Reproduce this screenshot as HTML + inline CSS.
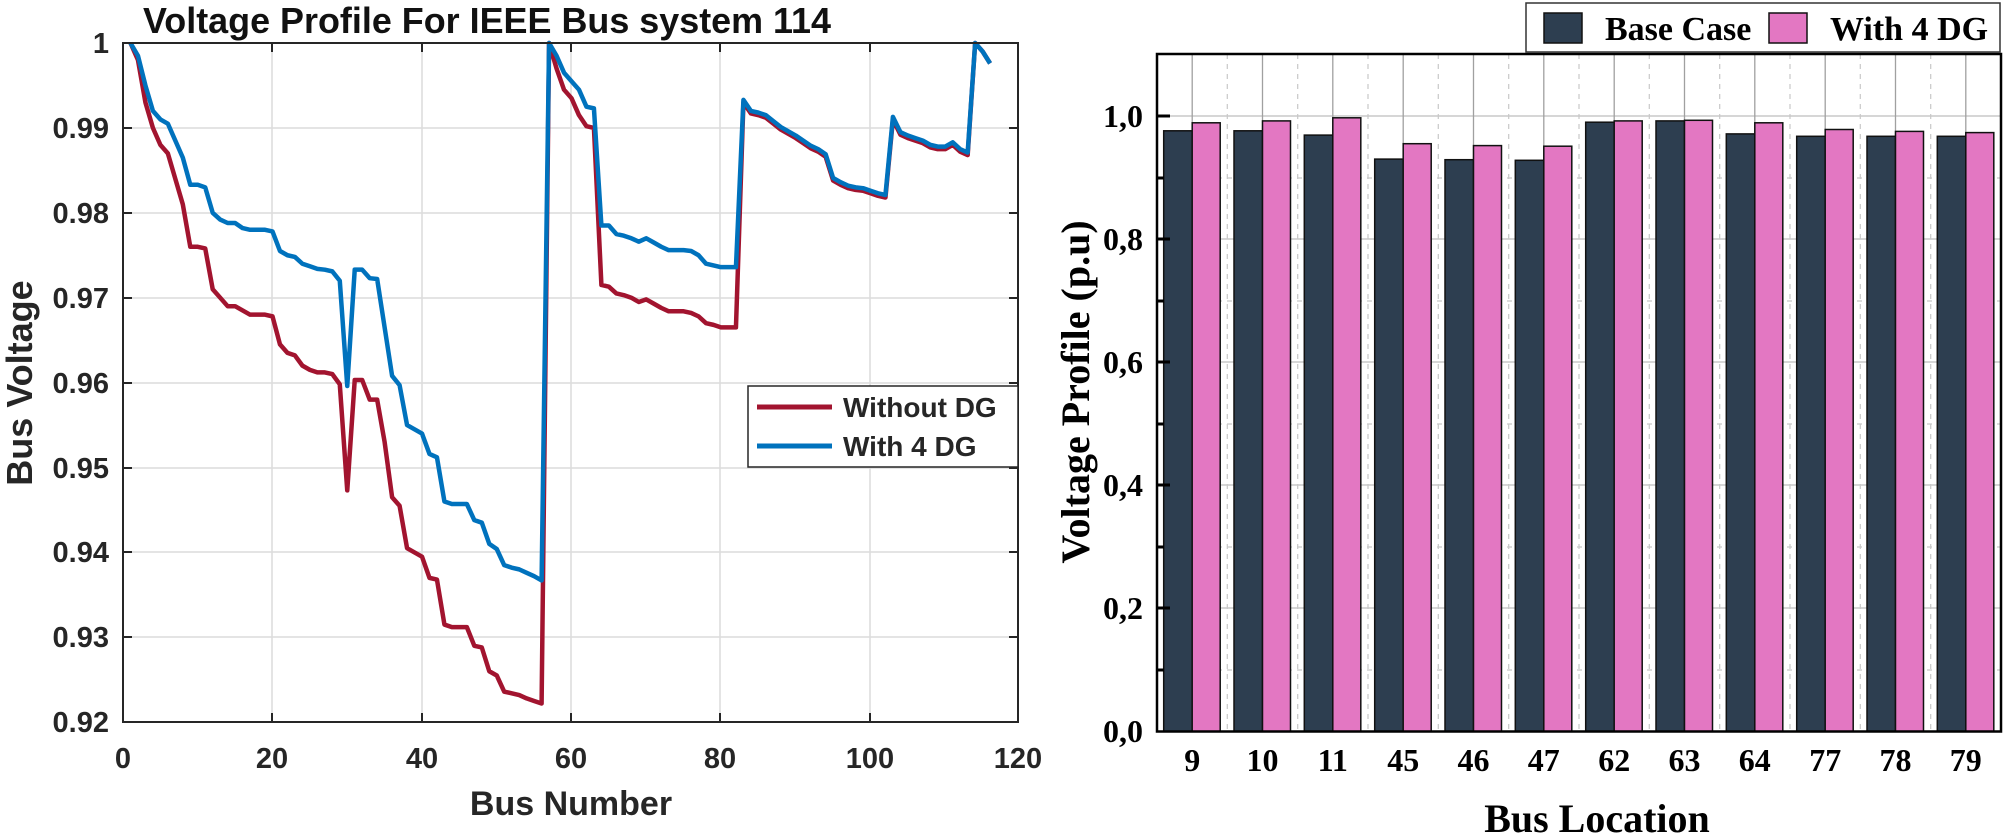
<!DOCTYPE html>
<html><head><meta charset="utf-8"><style>
html,body{margin:0;padding:0;background:#fff;}
svg{display:block;}
.a{font-family:"Liberation Sans",Arial,sans-serif;font-weight:bold;fill:#262626;}
.t{font-family:"Liberation Serif","Times New Roman",serif;font-weight:bold;fill:#000;}
</style></head><body>
<svg width="2005" height="838" viewBox="0 0 2005 838" xmlns="http://www.w3.org/2000/svg">
<!-- LEFT CHART -->
<g stroke="#dcdcdc" stroke-width="1.5">
<line x1="272" y1="43" x2="272" y2="722"/><line x1="422" y1="43" x2="422" y2="722"/>
<line x1="571" y1="43" x2="571" y2="722"/><line x1="720" y1="43" x2="720" y2="722"/>
<line x1="870" y1="43" x2="870" y2="722"/>
<line x1="123" y1="128" x2="1018" y2="128"/><line x1="123" y1="213" x2="1018" y2="213"/>
<line x1="123" y1="298" x2="1018" y2="298"/><line x1="123" y1="383" x2="1018" y2="383"/>
<line x1="123" y1="468" x2="1018" y2="468"/><line x1="123" y1="552" x2="1018" y2="552"/>
<line x1="123" y1="637" x2="1018" y2="637"/>
</g>
<g transform="translate(123,8533) scale(7.475,-8490)" fill="none" stroke-linejoin="round">
<polyline vector-effect="non-scaling-stroke" stroke="#A2142F" stroke-width="4.5" points="1,1 2,0.998 3,0.993 4,0.990 5,0.988 6,0.987 7,0.984 8,0.981 9,0.976 10,0.976 11,0.9758 12,0.971 13,0.970 14,0.969 15,0.969 16,0.9685 17,0.968 18,0.968 19,0.968 20,0.9678 21,0.9645 22,0.9635 23,0.9632 24,0.962 25,0.9615 26,0.9612 27,0.9612 28,0.961 29,0.9598 30,0.9473 31,0.9603 32,0.9603 33,0.958 34,0.958 35,0.953 36,0.9465 37,0.9455 38,0.9405 39,0.940 40,0.9395 41,0.937 42,0.9368 43,0.9315 44,0.9312 45,0.9312 46,0.9312 47,0.929 48,0.9288 49,0.926 50,0.9255 51,0.9236 52,0.9234 53,0.9232 54,0.9228 55,0.9225 56,0.9222 57,1 58,0.997 59,0.9945 60,0.9935 61,0.9915 62,0.9902 63,0.990 64,0.9715 65,0.9713 66,0.9705 67,0.9703 68,0.970 69,0.9695 70,0.9698 71,0.9693 72,0.9688 73,0.9684 74,0.9684 75,0.9684 76,0.9682 77,0.9678 78,0.967 79,0.9668 80,0.9665 81,0.9665 82,0.9665 83,0.993 84,0.9917 85,0.9915 86,0.9912 87,0.9905 88,0.9898 89,0.9893 90,0.9888 91,0.9882 92,0.9876 93,0.9872 94,0.9866 95,0.9838 96,0.9833 97,0.9829 98,0.9827 99,0.9826 100,0.9823 101,0.982 102,0.9818 103,0.991 104,0.9892 105,0.9888 106,0.9885 107,0.9882 108,0.9877 109,0.9875 110,0.9875 111,0.9880 112,0.9872 113,0.9868 114,1 115,0.999 116,0.9976"/>
<polyline vector-effect="non-scaling-stroke" stroke="#0072BD" stroke-width="4.5" points="1,1 2,0.9985 3,0.995 4,0.992 5,0.991 6,0.9905 7,0.9885 8,0.9865 9,0.9833 10,0.9833 11,0.983 12,0.980 13,0.9792 14,0.9788 15,0.9788 16,0.9782 17,0.978 18,0.978 19,0.978 20,0.9778 21,0.9755 22,0.975 23,0.9748 24,0.974 25,0.9737 26,0.9734 27,0.9733 28,0.9731 29,0.972 30,0.9596 31,0.9733 32,0.9733 33,0.9723 34,0.9722 35,0.9665 36,0.9608 37,0.9597 38,0.955 39,0.9545 40,0.954 41,0.9516 42,0.9512 43,0.946 44,0.9457 45,0.9457 46,0.9457 47,0.9438 48,0.9435 49,0.941 50,0.9404 51,0.9385 52,0.9382 53,0.938 54,0.9376 55,0.9372 56,0.9367 57,1 58,0.9985 59,0.9965 60,0.9955 61,0.9945 62,0.9925 63,0.9923 64,0.9785 65,0.9785 66,0.9775 67,0.9773 68,0.977 69,0.9766 70,0.977 71,0.9765 72,0.976 73,0.9756 74,0.9756 75,0.9756 76,0.9755 77,0.975 78,0.974 79,0.9738 80,0.9736 81,0.9736 82,0.9736 83,0.9933 84,0.992 85,0.9918 86,0.9915 87,0.9908 88,0.9901 89,0.9896 90,0.9891 91,0.9885 92,0.9879 93,0.9875 94,0.9869 95,0.9841 96,0.9836 97,0.9832 98,0.983 99,0.9829 100,0.9826 101,0.9823 102,0.9821 103,0.9913 104,0.9895 105,0.9891 106,0.9888 107,0.9885 108,0.988 109,0.9878 110,0.9878 111,0.9883 112,0.9875 113,0.9871 114,1 115,0.999 116,0.9976"/>
</g>
<rect x="123" y="43" width="895" height="679" fill="none" stroke="#262626" stroke-width="2"/>
<g stroke="#262626" stroke-width="2">
<line x1="272" y1="722" x2="272" y2="713"/><line x1="422" y1="722" x2="422" y2="713"/><line x1="571" y1="722" x2="571" y2="713"/><line x1="720" y1="722" x2="720" y2="713"/><line x1="870" y1="722" x2="870" y2="713"/>
<line x1="272" y1="43" x2="272" y2="52"/><line x1="422" y1="43" x2="422" y2="52"/><line x1="571" y1="43" x2="571" y2="52"/><line x1="720" y1="43" x2="720" y2="52"/><line x1="870" y1="43" x2="870" y2="52"/>
<line x1="123" y1="128" x2="132" y2="128"/><line x1="123" y1="213" x2="132" y2="213"/><line x1="123" y1="298" x2="132" y2="298"/><line x1="123" y1="383" x2="132" y2="383"/><line x1="123" y1="468" x2="132" y2="468"/><line x1="123" y1="552" x2="132" y2="552"/><line x1="123" y1="637" x2="132" y2="637"/>
<line x1="1018" y1="128" x2="1009" y2="128"/><line x1="1018" y1="213" x2="1009" y2="213"/><line x1="1018" y1="298" x2="1009" y2="298"/><line x1="1018" y1="383" x2="1009" y2="383"/><line x1="1018" y1="468" x2="1009" y2="468"/><line x1="1018" y1="552" x2="1009" y2="552"/><line x1="1018" y1="637" x2="1009" y2="637"/>
</g>
<g class="a" font-size="29" text-anchor="end">
<text x="109" y="53">1</text><text x="109" y="138">0.99</text><text x="109" y="223">0.98</text><text x="109" y="308">0.97</text><text x="109" y="393">0.96</text><text x="109" y="478">0.95</text><text x="109" y="562">0.94</text><text x="109" y="647">0.93</text><text x="109" y="732">0.92</text>
</g>
<g class="a" font-size="29" text-anchor="middle">
<text x="123" y="768">0</text><text x="272" y="768">20</text><text x="422" y="768">40</text><text x="571" y="768">60</text><text x="720" y="768">80</text><text x="870" y="768">100</text><text x="1018" y="768">120</text>
</g>
<text class="a" font-size="34" x="571" y="815" text-anchor="middle">Bus Number</text>
<text class="a" font-size="36" transform="translate(32,383) rotate(-90)" text-anchor="middle">Bus Voltage</text>
<text class="a" font-size="36" x="487" y="33" text-anchor="middle" style="fill:#111" textLength="688" lengthAdjust="spacingAndGlyphs">Voltage Profile For IEEE Bus system 114</text>
<rect x="748" y="386" width="270" height="81" fill="#fff" stroke="#262626" stroke-width="1.5"/>
<line x1="757" y1="407" x2="832" y2="407" stroke="#A2142F" stroke-width="5"/>
<line x1="757" y1="446" x2="832" y2="446" stroke="#0072BD" stroke-width="5"/>
<text class="a" font-size="28" x="843" y="417">Without DG</text>
<text class="a" font-size="28" x="843" y="456">With 4 DG</text>

<!-- RIGHT CHART -->
<g stroke="#bdbdbd" stroke-width="1.3">
<line x1="1157" y1="116" x2="2001" y2="116"/><line x1="1157" y1="239" x2="2001" y2="239"/><line x1="1157" y1="362" x2="2001" y2="362"/><line x1="1157" y1="485" x2="2001" y2="485"/><line x1="1157" y1="608" x2="2001" y2="608"/>
</g>
<g stroke="#c8c8c8" stroke-width="1.2" stroke-dasharray="5,5">
<line x1="1157" y1="178" x2="2001" y2="178"/><line x1="1157" y1="301" x2="2001" y2="301"/><line x1="1157" y1="424" x2="2001" y2="424"/><line x1="1157" y1="547" x2="2001" y2="547"/><line x1="1157" y1="670" x2="2001" y2="670"/>
<line x1="1227.3" y1="54" x2="1227.3" y2="731"/><line x1="1297.7" y1="54" x2="1297.7" y2="731"/><line x1="1368" y1="54" x2="1368" y2="731"/><line x1="1438.3" y1="54" x2="1438.3" y2="731"/><line x1="1508.7" y1="54" x2="1508.7" y2="731"/><line x1="1579" y1="54" x2="1579" y2="731"/><line x1="1649.3" y1="54" x2="1649.3" y2="731"/><line x1="1719.7" y1="54" x2="1719.7" y2="731"/><line x1="1790" y1="54" x2="1790" y2="731"/><line x1="1860.3" y1="54" x2="1860.3" y2="731"/><line x1="1930.7" y1="54" x2="1930.7" y2="731"/>
</g>
<g stroke="#a0a0a0" stroke-width="1.3">
<line x1="1192.2" y1="54" x2="1192.2" y2="731"/><line x1="1262.5" y1="54" x2="1262.5" y2="731"/><line x1="1332.8" y1="54" x2="1332.8" y2="731"/><line x1="1403.2" y1="54" x2="1403.2" y2="731"/><line x1="1473.5" y1="54" x2="1473.5" y2="731"/><line x1="1543.8" y1="54" x2="1543.8" y2="731"/><line x1="1614.2" y1="54" x2="1614.2" y2="731"/><line x1="1684.5" y1="54" x2="1684.5" y2="731"/><line x1="1754.8" y1="54" x2="1754.8" y2="731"/><line x1="1825.2" y1="54" x2="1825.2" y2="731"/><line x1="1895.5" y1="54" x2="1895.5" y2="731"/><line x1="1965.8" y1="54" x2="1965.8" y2="731"/>
</g>
<g stroke="#111" stroke-width="1.5">
<rect x="1163.7" y="130.8" width="28.5" height="600.7" fill="#2d3e50"/><rect x="1192.2" y="122.8" width="28" height="608.7" fill="#e377c2"/>
<rect x="1234" y="130.8" width="28.5" height="600.7" fill="#2d3e50"/><rect x="1262.5" y="120.9" width="28" height="610.6" fill="#e377c2"/>
<rect x="1304.3" y="135.1" width="28.5" height="596.4" fill="#2d3e50"/><rect x="1332.8" y="117.8" width="28" height="613.7" fill="#e377c2"/>
<rect x="1374.7" y="159.1" width="28.5" height="572.4" fill="#2d3e50"/><rect x="1403.2" y="143.7" width="28" height="587.8" fill="#e377c2"/>
<rect x="1445" y="159.7" width="28.5" height="571.8" fill="#2d3e50"/><rect x="1473.5" y="145.6" width="28" height="585.9" fill="#e377c2"/>
<rect x="1515.3" y="160.3" width="28.5" height="571.2" fill="#2d3e50"/><rect x="1543.8" y="146.2" width="28" height="585.3" fill="#e377c2"/>
<rect x="1585.7" y="122.2" width="28.5" height="609.3" fill="#2d3e50"/><rect x="1614.2" y="120.9" width="28" height="610.6" fill="#e377c2"/>
<rect x="1656" y="120.9" width="28.5" height="610.6" fill="#2d3e50"/><rect x="1684.5" y="120.3" width="28" height="611.2" fill="#e377c2"/>
<rect x="1726.3" y="133.9" width="28.5" height="597.6" fill="#2d3e50"/><rect x="1754.8" y="122.8" width="28" height="608.7" fill="#e377c2"/>
<rect x="1796.7" y="136.3" width="28.5" height="595.2" fill="#2d3e50"/><rect x="1825.2" y="129.5" width="28" height="602" fill="#e377c2"/>
<rect x="1867" y="136.3" width="28.5" height="595.2" fill="#2d3e50"/><rect x="1895.5" y="131.4" width="28" height="600.1" fill="#e377c2"/>
<rect x="1937.3" y="136.3" width="28.5" height="595.2" fill="#2d3e50"/><rect x="1965.8" y="132.6" width="28" height="598.9" fill="#e377c2"/>
</g>
<rect x="1157" y="54" width="844" height="677.5" fill="none" stroke="#000" stroke-width="2.5"/>
<g stroke="#000" stroke-width="3">
<line x1="1157" y1="116" x2="1170" y2="116"/><line x1="1157" y1="239" x2="1170" y2="239"/><line x1="1157" y1="362" x2="1170" y2="362"/><line x1="1157" y1="485" x2="1170" y2="485"/><line x1="1157" y1="608" x2="1170" y2="608"/>
<line x1="1157" y1="178" x2="1164" y2="178"/><line x1="1157" y1="301" x2="1164" y2="301"/><line x1="1157" y1="424" x2="1164" y2="424"/><line x1="1157" y1="547" x2="1164" y2="547"/><line x1="1157" y1="670" x2="1164" y2="670"/>
</g>
<g class="t" font-size="32" text-anchor="end">
<text x="1143" y="127">1,0</text><text x="1143" y="250">0,8</text><text x="1143" y="373">0,6</text><text x="1143" y="496">0,4</text><text x="1143" y="619">0,2</text><text x="1143" y="742">0,0</text>
</g>
<g class="t" font-size="32" text-anchor="middle">
<text x="1192.2" y="771">9</text><text x="1262.5" y="771">10</text><text x="1332.8" y="771">11</text><text x="1403.2" y="771">45</text><text x="1473.5" y="771">46</text><text x="1543.8" y="771">47</text><text x="1614.2" y="771">62</text><text x="1684.5" y="771">63</text><text x="1754.8" y="771">64</text><text x="1825.2" y="771">77</text><text x="1895.5" y="771">78</text><text x="1965.8" y="771">79</text>
</g>
<text class="t" font-size="40" x="1597" y="832" text-anchor="middle">Bus Location</text>
<text class="t" font-size="40" transform="translate(1089,392) rotate(-90)" text-anchor="middle">Voltage Profile (p.u)</text>
<rect x="1526" y="3" width="474" height="49" fill="#fff" stroke="#333" stroke-width="1.5"/>
<rect x="1544" y="13" width="38" height="30" fill="#2d3e50" stroke="#111" stroke-width="1.5"/>
<text class="t" font-size="34" x="1605" y="40">Base Case</text>
<rect x="1769" y="13" width="38" height="30" fill="#e377c2" stroke="#111" stroke-width="1.5"/>
<text class="t" font-size="34" x="1830" y="40">With 4 DG</text>
</svg>
</body></html>
